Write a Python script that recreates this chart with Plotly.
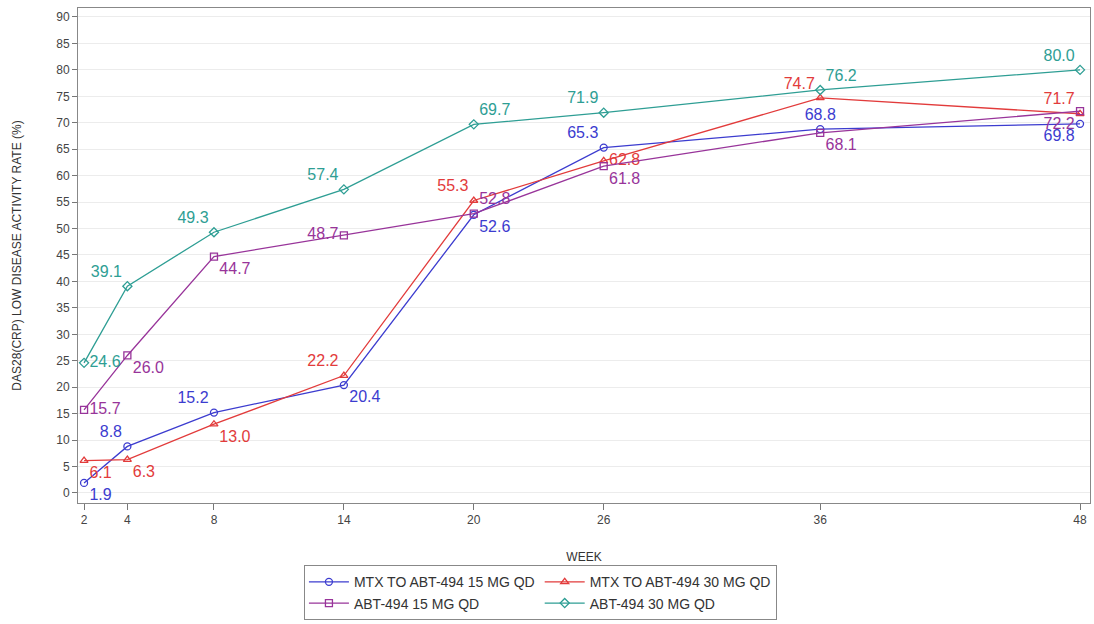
import plotly.graph_objects as go

weeks = [2, 4, 8, 14, 20, 26, 36, 48]

mtx_15 = [1.9, 8.8, 15.2, 20.4, 52.6, 65.3, 68.8, 69.8]
mtx_30 = [6.1, 6.3, 13.0, 22.2, 55.3, 62.8, 74.7, 71.7]
abt_15 = [15.7, 26.0, 44.7, 48.7, 52.8, 61.8, 68.1, 72.2]
abt_30 = [24.6, 39.1, 49.3, 57.4, 69.7, 71.9, 76.2, 80.0]

series_names = [
    "MTX TO ABT-494 15 MG QD",
    "MTX TO ABT-494 30 MG QD",
    "ABT-494 15 MG QD",
    "ABT-494 30 MG QD",
]

y_ticks = list(range(0, 95, 5))

series = [
    dict(name=series_names[0], y=mtx_15, color="#3c3ccf", symbol="circle-open", group="a",
         pos=["bottom right", "top left", "top left", "bottom right",
              "bottom right", "top left", "top center", "bottom left"]),
    dict(name=series_names[1], y=mtx_30, color="#e23b3b", symbol="triangle-up-open", group="b",
         pos=["bottom right", "bottom right", "bottom right", "top left",
              "top left", "middle right", "top left", "top left"]),
    dict(name=series_names[2], y=abt_15, color="#98349a", symbol="square-open", group="a",
         pos=["middle right", "bottom right", "bottom right", "middle left",
              "top right", "bottom right", "bottom right", "bottom left"]),
    dict(name=series_names[3], y=abt_30, color="#2e9e94", symbol="diamond-open", group="b",
         pos=["middle right", "top left", "top left", "top left",
              "top right", "top left", "top right", "top left"]),
]

fig = go.Figure()
for s in series:
    fig.add_trace(go.Scatter(
        x=weeks, y=s["y"], name=s["name"], legendgroup=s["group"],
        mode="lines+markers+text",
        text=[f"{v:.1f}" for v in s["y"]],
        textposition=s["pos"],
        textfont=dict(color=s["color"], size=16, family="Liberation Sans, Arial"),
        line=dict(color=s["color"], width=1.3),
        marker=dict(symbol=s["symbol"], size=7, color=s["color"], line=dict(width=1.3)),
    ))

axis_font = dict(family="Liberation Sans, Arial", size=12, color="#444")
title_font = dict(family="Liberation Sans, Arial", size=12, color="#333")

fig.update_layout(
    width=1094, height=624,
    margin=dict(l=78, r=4, t=8, b=121, autoexpand=False),
    plot_bgcolor="white", paper_bgcolor="white",
    showlegend=True,
    legend=dict(
        orientation="h", traceorder="grouped", tracegroupgap=20,
        xref="container", yref="container",
        x=0.494, xanchor="center", y=0.006, yanchor="bottom",
        bordercolor="#888", borderwidth=1,
        font=dict(family="Liberation Sans, Arial", size=14, color="#333"),
        itemwidth=40,
    ),
    xaxis=dict(
        range=[1.72, 48.46], tickmode="array", tickvals=weeks,
        ticks="outside", ticklen=6, tickcolor="#777",
        showline=True, linecolor="#888", mirror=True, showgrid=False, zeroline=False,
        tickfont=axis_font,
        title=dict(text="WEEK", font=title_font, standoff=26),
    ),
    yaxis=dict(
        range=[-1.9, 91.7], tickmode="array", tickvals=y_ticks,
        ticks="outside", ticklen=5, tickcolor="#777",
        showline=True, linecolor="#888", mirror=True,
        showgrid=True, gridcolor="#ececec", zeroline=False,
        tickfont=axis_font,
        title=dict(text="DAS28(CRP) LOW DISEASE ACTIVITY RATE (%)", font=title_font, standoff=32),
    ),
)

fig.write_html("out.html")
